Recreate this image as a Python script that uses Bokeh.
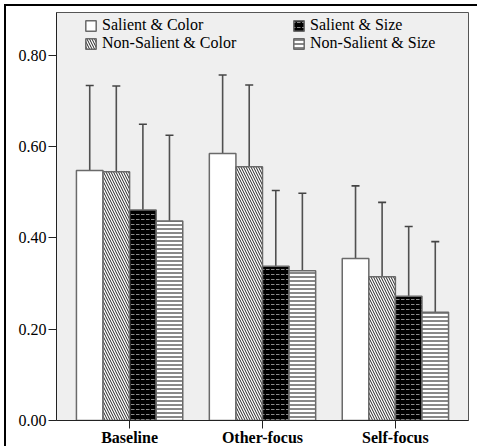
from bokeh.plotting import figure
from bokeh.models import (Range1d, FixedTicker, PrintfTickFormatter, Legend, LegendItem,
                          Whisker, TeeHead, ColumnDataSource)
from bokeh.embed import file_html
from bokeh.resources import INLINE

conditions = ["Baseline", "Other-focus", "Self-focus"]
series = ["Salient & Color", "Non-Salient & Color", "Salient & Size", "Non-Salient & Size"]

salient_color = [0.548, 0.585, 0.355]
nonsalient_color = [0.545, 0.556, 0.315]
salient_size = [0.461, 0.338, 0.272]
nonsalient_size = [0.437, 0.328, 0.237]

err_salient_color = [0.186, 0.172, 0.159]
err_nonsalient_color = [0.188, 0.179, 0.163]
err_salient_size = [0.188, 0.166, 0.153]
err_nonsalient_size = [0.188, 0.170, 0.155]

y_ticks = [0.0, 0.2, 0.4, 0.6, 0.8]

values = [salient_color, nonsalient_color, salient_size, nonsalient_size]
errors = [err_salient_color, err_nonsalient_color, err_salient_size, err_nonsalient_size]
offsets = [-0.3, -0.1, 0.1, 0.3]

styles = [
    dict(fill_color="white", hatch_pattern=" ", hatch_color="black"),
    dict(fill_color="white", hatch_pattern="\\", hatch_color="#222222", hatch_scale=5, hatch_weight=1),
    dict(fill_color="black", hatch_pattern='"', hatch_color="#8a8a8a", hatch_scale=5, hatch_weight=1),
    dict(fill_color="white", hatch_pattern="-", hatch_color="#111111", hatch_scale=4, hatch_weight=1),
]

FONT = "'Liberation Serif', 'Times New Roman', serif"

FH = 408
p = figure(frame_width=412, frame_height=FH, output_backend="svg", toolbar_location=None,
           x_range=Range1d(-0.55, 2.55), y_range=Range1d(0, 0.894),
           min_border_left=50, min_border_top=6, min_border_right=9, min_border_bottom=0)
p.styles = {"border-left": "2px solid black", "border-top": "2px solid black",
            "margin-left": "4px", "margin-top": "4px"}
p.background_fill_color = "#efefef"
p.border_fill_color = "white"
p.outline_line_color = "#555555"
p.outline_line_width = 1
p.xgrid.visible = False
p.ygrid.visible = False

renderers = []
for k, name in enumerate(series):
    xs = [i + offsets[k] for i in range(len(conditions))]
    src = ColumnDataSource(dict(x=xs, top=values[k],
                                upper=[v + e for v, e in zip(values[k], errors[k])],
                                lower=[v - e for v, e in zip(values[k], errors[k])]))
    r = p.vbar(x="x", top="top", width=0.2, bottom=0, source=src,
               line_color="#6a6a6a", line_width=1.5, **styles[k])
    renderers.append(r)
    w = Whisker(base="x", upper="upper", lower="lower", source=src,
                line_color="#505050", line_width=1.6,
                upper_head=TeeHead(size=8, line_color="#444444", line_width=1.6),
                lower_head=TeeHead(size=8, line_color="#444444", line_width=1.6))
    p.add_layout(w)

# axes
p.yaxis.ticker = FixedTicker(ticks=y_ticks)
p.yaxis.formatter = PrintfTickFormatter(format="%.2f")
p.yaxis.major_label_text_font = FONT
p.yaxis.major_label_text_font_size = "16px"
p.yaxis.major_label_text_color = "black"
p.yaxis.major_tick_out = 8
p.yaxis.major_tick_in = 0
p.yaxis.minor_tick_out = 0
p.yaxis.minor_tick_in = 0
p.yaxis.axis_line_color = "#222222"
p.yaxis.major_tick_line_color = "#222222"
p.yaxis.major_label_standoff = 2

p.xaxis.ticker = FixedTicker(ticks=list(range(len(conditions))))
p.xaxis.major_label_overrides = {i: c for i, c in enumerate(conditions)}
p.xaxis.major_label_text_font = FONT
p.xaxis.major_label_text_font_style = "bold"
p.xaxis.major_label_text_font_size = "16px"
p.xaxis.major_label_text_color = "black"
p.xaxis.major_tick_out = 8
p.xaxis.major_tick_in = 0
p.xaxis.minor_tick_out = 0
p.xaxis.minor_tick_in = 0
p.xaxis.axis_line_color = "#222222"
p.xaxis.major_tick_line_color = "#222222"
p.xaxis.major_label_standoff = 0

def make_legend(items, x, y):
    lg = Legend(items=items, location=(x, y), orientation="vertical",
                padding=0, margin=0, spacing=-2, border_line_alpha=0,
                background_fill_alpha=0, glyph_width=13, glyph_height=13,
                label_height=13, label_standoff=5,
                label_text_font=FONT, label_text_font_size="16px",
                label_text_color="black")
    return lg

vy = FH - 40
lg1 = make_legend([LegendItem(label=series[0], renderers=[renderers[0]]),
                   LegendItem(label=series[1], renderers=[renderers[1]])], 28, vy)
lg2 = make_legend([LegendItem(label=series[2], renderers=[renderers[2]]),
                   LegendItem(label=series[3], renderers=[renderers[3]])], 236, vy)
p.add_layout(lg1)
p.add_layout(lg2)

open("out.html", "w").write(file_html(p, INLINE))
